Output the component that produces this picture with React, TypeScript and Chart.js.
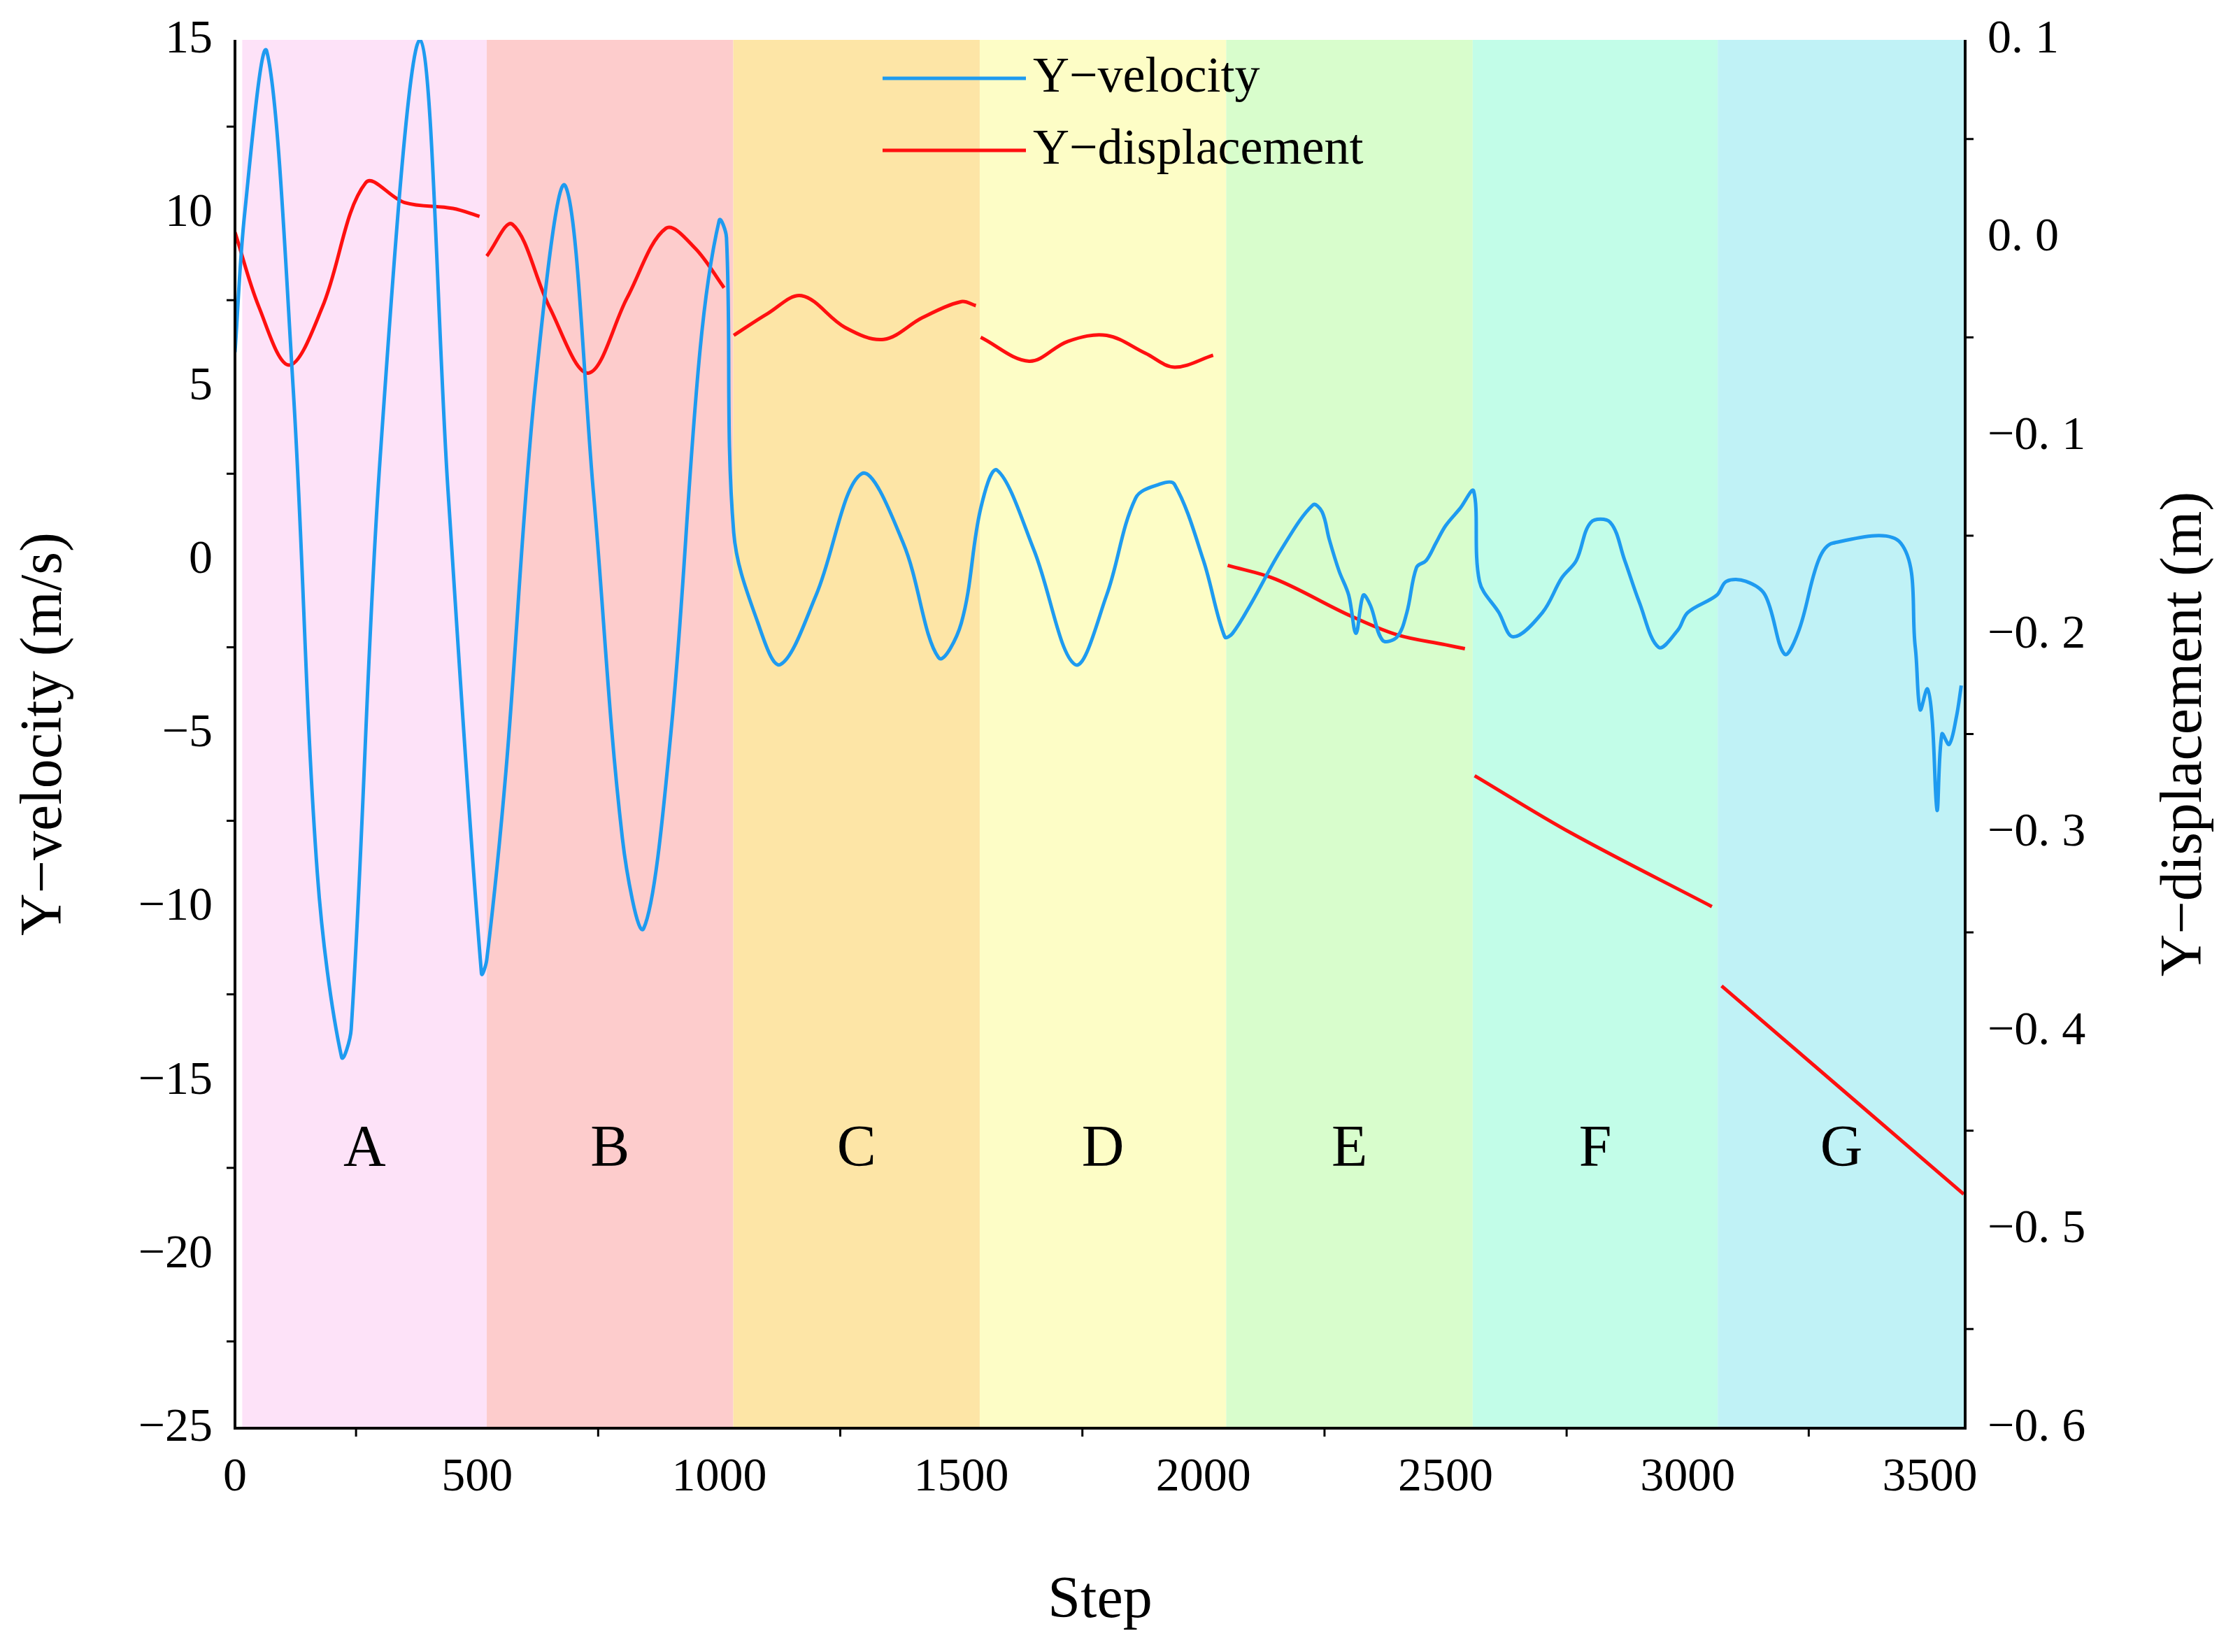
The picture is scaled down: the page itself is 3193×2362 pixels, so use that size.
import React, { useEffect, useRef } from "react";
import { Chart, registerables } from "chart.js";
Chart.register(...registerables);

const velStep = [0,20,65,120,170,220,240,300,382,440,509,520,560,620,682,740,800,844,900,960,1000,1015,1030,1080,1126,1200,1294,1380,1453,1500,1540,1574,1650,1735,1800,1860,1910,1940,2000,2044,2060,2100,2160,2226,2245,2260,2280,2300,2315,2330,2345,2370,2400,2420,2440,2460,2480,2500,2530,2558,2570,2610,2640,2700,2740,2770,2800,2840,2870,2900,2940,2980,3000,3060,3080,3120,3160,3200,3230,3270,3300,3440,3470,3480,3495,3505,3515,3525,3540,3555,3565];
const velVal = [6,10,14.7,5,-9,-14.3,-13.5,3,15,2,-11.9,-11.5,-6,5,10.8,2,-8,-10.6,-5,6,9.8,9.3,0.8,-1.8,-3.0,-1.0,2.5,0.5,-2.8,-1.8,1.5,2.6,0.3,-3.0,-1.0,1.8,2.2,2.2,0,-2.2,-2.1,-1.2,0.3,1.6,1.4,0.6,-0.3,-1.0,-2.1,-1.0,-1.3,-2.3,-2.2,-1.5,-0.2,0,0.5,1.0,1.5,2.0,-0.6,-1.5,-2.2,-1.5,-0.5,0,1.1,1.1,0,-1.2,-2.5,-2.0,-1.5,-1.0,-0.6,-0.6,-1.0,-2.7,-2.0,0,0.5,0.5,-2.5,-4.3,-3.7,-4.6,-7.2,-5.0,-5.3,-4.5,-3.6];

const dispSegments: number[][][] = [
  [[0,0.003],[50,-0.035],[112,-0.064],[180,-0.035],[270,0.028],[350,0.018],[450,0.015],[505,0.011]],
  [[520,-0.009],[573,0.007],[650,-0.035],[730,-0.068],[810,-0.03],[890,0.005],[950,-0.005],[1010,-0.025]],
  [[1030,-0.049],[1100,-0.038],[1170,-0.029],[1260,-0.045],[1340,-0.051],[1420,-0.04],[1500,-0.032],[1530,-0.034]],
  [[1540,-0.05],[1640,-0.062],[1720,-0.052],[1800,-0.049],[1880,-0.058],[1940,-0.065],[2020,-0.059]],
  [[2050,-0.165],[2150,-0.172],[2300,-0.19],[2400,-0.2],[2500,-0.205],[2540,-0.207]],
  [[2560,-0.271],[2760,-0.3],[3050,-0.337]],
  [[3070,-0.377],[3570,-0.482]],
];

const xTicks = [0,500,1000,1500,2000,2500,3000,3500];
const yTicks = [-25,-20,-15,-10,-5,0,5,10,15];
const y1Ticks = [-0.6,-0.5,-0.4,-0.3,-0.2,-0.1,0,0.1];
const bandEdges = [15,520,1029,1538,2047,2556,3062,3573];
const bandLabels = ["A","B","C","D","E","F","G"];
const bandColors = ["#fde2f8","#fdcccc","#fde5a6","#fdfdc6","#d8fdcc","#c2fde8","#c0f2f6"];

const FONT = "'Liberation Serif', 'Times New Roman', serif";
const fmt = (v: number, d: number) => {
  const s = Math.abs(v).toFixed(d).replace(".", ". ");
  return (v < -1e-9 ? "\u2212" : "") + s;
};

export default function App() {
  const ref = useRef<HTMLCanvasElement>(null);
  useEffect(() => {
    const datasets: any[] = [
      { label: "Y\u2212velocity", data: velStep.map((x, i) => ({ x, y: velVal[i] })), borderColor: "#1e9bf0", borderWidth: 5, pointRadius: 0, tension: 0.35, yAxisID: "y" },
      ...dispSegments.map((seg) => ({ label: "Y\u2212displacement", data: seg.map(([x, y]) => ({ x, y })), borderColor: "#ff1010", borderWidth: 5, pointRadius: 0, tension: 0.35, yAxisID: "y1" })),
    ];
    const plugin = {
      id: "deco",
      beforeDatasetsDraw(c: any) {
        const { ctx, chartArea: a, scales } = c;
        const x = scales.x, y = scales.y;
        ctx.save();
        for (let i = 0; i < 7; i++) {
          const l = Math.max(a.left, x.getPixelForValue(bandEdges[i]));
          const r = Math.min(a.right, x.getPixelForValue(bandEdges[i + 1]));
          ctx.fillStyle = bandColors[i];
          ctx.fillRect(l, a.top, r - l, a.bottom - a.top);
          ctx.fillStyle = "#000";
          ctx.font = `84px ${FONT}`;
          ctx.textAlign = "center";
          ctx.textBaseline = "middle";
          ctx.fillText(bandLabels[i], (l + r) / 2, y.getPixelForValue(-17));
        }
        ctx.restore();
      },
      afterDraw(c: any) {
        const { ctx, chartArea: a, scales } = c;
        ctx.save();
        ctx.strokeStyle = "#000";
        ctx.lineWidth = 4;
        ctx.beginPath();
        ctx.moveTo(a.left, a.top); ctx.lineTo(a.left, a.bottom); ctx.lineTo(a.right, a.bottom); ctx.lineTo(a.right, a.top);
        ctx.stroke();
        ctx.lineWidth = 3;
        for (let v = 250; v < 3600; v += 500) { const p = scales.x.getPixelForValue(v); ctx.beginPath(); ctx.moveTo(p, a.bottom); ctx.lineTo(p, a.bottom + 12); ctx.stroke(); }
        for (let v = -22.5; v < 15; v += 5) { const p = scales.y.getPixelForValue(v); ctx.beginPath(); ctx.moveTo(a.left, p); ctx.lineTo(a.left - 12, p); ctx.stroke(); }
        for (let v = -0.55; v < 0.1; v += 0.1) { const p = scales.y1.getPixelForValue(v); ctx.beginPath(); ctx.moveTo(a.right, p); ctx.lineTo(a.right + 12, p); ctx.stroke(); }
        // axis titles
        ctx.fillStyle = "#000";
        ctx.font = `84px ${FONT}`;
        ctx.textAlign = "center"; ctx.textBaseline = "middle";
        const cy = (a.top + a.bottom) / 2;
        ctx.save(); ctx.translate(65, cy); ctx.rotate(-Math.PI / 2); ctx.fillText("Y\u2212velocity (m/s)", 0, 0); ctx.restore();
        ctx.save(); ctx.translate(3125, cy); ctx.rotate(-Math.PI / 2); ctx.fillText("Y\u2212displacement (m)", 0, 0); ctx.restore();
        ctx.fillText("Step", (a.left + a.right) / 2, 2290);
        // legend
        const lx = 1262, items = [["Y\u2212velocity", "#1e9bf0", 112], ["Y\u2212displacement", "#ff1010", 215]];
        ctx.font = `72px ${FONT}`; ctx.textBaseline = "middle"; ctx.textAlign = "left";
        for (const [t, col, yy] of items as any) {
          ctx.strokeStyle = col; ctx.lineWidth = 5;
          ctx.beginPath(); ctx.moveTo(lx, yy); ctx.lineTo(lx + 205, yy); ctx.stroke();
          ctx.fillStyle = "#000"; ctx.fillText(t, lx + 215, yy);
        }
        ctx.restore();
      },
    };
    const tick = { color: "#000", font: { family: FONT, size: 68 } };
    const g = { display: false, drawTicks: true, tickLength: 22, tickColor: "#000", tickWidth: 3, drawOnChartArea: false } as any;
    const chart = new Chart(ref.current!, {
      type: "line",
      data: { datasets },
      plugins: [plugin],
      options: {
        animation: false, responsive: false, maintainAspectRatio: false,
        layout: { padding: { top: 57, bottom: 0, left: 0, right: 0 } },
        plugins: { legend: { display: false }, tooltip: { enabled: false } },
        scales: {
          x: { type: "linear", min: 0, max: 3573, border: { display: false }, grid: g,
            ticks: { ...tick, padding: 8, autoSkip: false, maxRotation: 0, callback: (v: any) => String(v) },
            afterBuildTicks: (s: any) => { s.ticks = xTicks.map((value) => ({ value })); },
            afterFit: (s: any) => { s.height = 320; } },
          y: { position: "left", min: -25, max: 15, border: { display: false }, grid: g,
            ticks: { ...tick, padding: 10, autoSkip: false, callback: (v: any) => fmt(v, 0) },
            afterBuildTicks: (s: any) => { s.ticks = yTicks.map((value) => ({ value })); },
            afterFit: (s: any) => { s.width = 336; } },
          y1: { position: "right", min: -0.6, max: 0.1, border: { display: false }, grid: g,
            ticks: { ...tick, padding: 10, autoSkip: false, callback: (v: any) => fmt(v, 1) },
            afterBuildTicks: (s: any) => { s.ticks = y1Ticks.map((value) => ({ value })); },
            afterFit: (s: any) => { s.width = 383; } },
        },
      } as any,
    });
    return () => chart.destroy();
  }, []);
  return (
    <div style={{ position: "fixed", left: 0, top: 0, width: 3193, height: 2362, background: "#fff" }}>
      <canvas ref={ref} width={3193} height={2362} style={{ width: 3193, height: 2362 }} />
    </div>
  );
}
